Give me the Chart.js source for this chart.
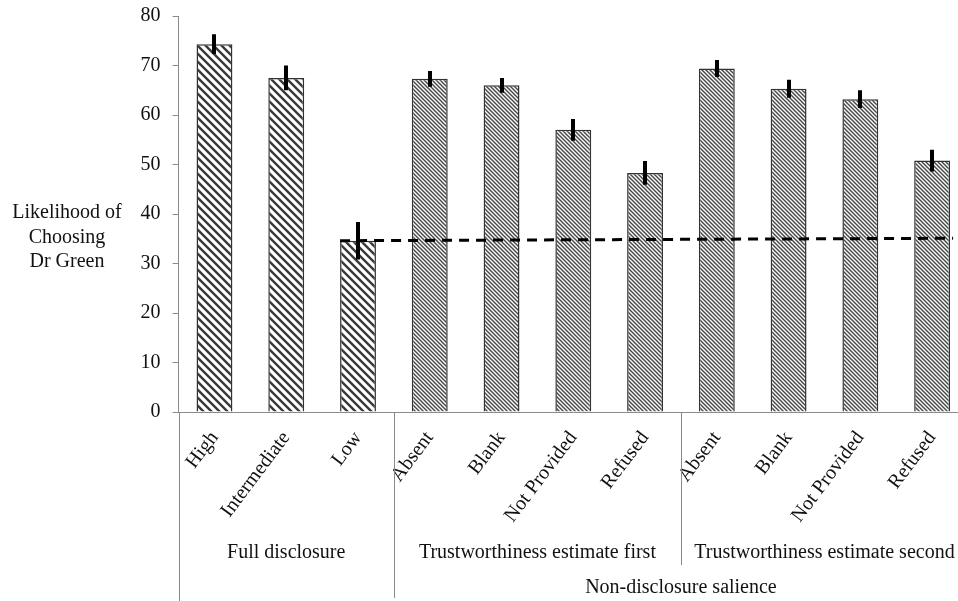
<!DOCTYPE html>
<html>
<head>
<meta charset="utf-8">
<script src="https://cdn.jsdelivr.net/npm/chart.js@4.4.0/dist/chart.umd.min.js"></script>
<style>
  html, body { margin: 0; padding: 0; background: #fff; overflow: hidden; }
  canvas { display: block; }
</style>
</head>
<body>
<canvas id="chart" width="972" height="601"></canvas>
<script>
// Conditions along the x axis
const categories = ['High', 'Intermediate', 'Low', 'Absent', 'Blank', 'Not Provided', 'Refused', 'Absent', 'Blank', 'Not Provided', 'Refused'];
// Mean likelihood of choosing Dr Green per condition
const likelihood = [74.3, 67.5, 34.6, 67.3, 66.0, 57.0, 48.3, 69.4, 65.3, 63.2, 50.8];
// Half-length of each error bar
const errorMargins = [2.0, 2.5, 3.8, 1.6, 1.5, 2.2, 2.4, 1.7, 1.8, 1.8, 2.2];
// Grouping of the conditions
const groupNames = ['Full disclosure', 'Trustworthiness estimate first', 'Trustworthiness estimate second'];
const groupSizes = [3, 4, 4];
const outerGroupName = 'Non-disclosure salience';
// Dashed reference level (start, end) running from the Low condition
const referenceLevel = [34.6, 35.1];
// Y axis
const yTicks = [0, 10, 20, 30, 40, 50, 60, 70, 80];
const yTitleLines = ['Likelihood of', 'Choosing', 'Dr Green'];

const FONT = 'Liberation Serif, Times New Roman, serif';
const FONT_SIZE = 20;
const TEXT = '#111';
const AXIS = '#8a8a8a';

function stripePattern(size, width, color) {
  const c = document.createElement('canvas');
  c.width = c.height = size;
  const g = c.getContext('2d');
  g.fillStyle = '#fff';
  g.fillRect(0, 0, size, size);
  g.strokeStyle = color;
  g.lineWidth = width;
  g.beginPath();
  for (const k of [-size, 0, size]) {
    g.moveTo(k - 1, -1);
    g.lineTo(k + size + 1, size + 1);
  }
  g.stroke();
  return g.createPattern(c, 'repeat');
}

const coarse = stripePattern(8, 2.4, '#3a3a3a');
const fine = stripePattern(4, 1.5, '#4a4a4a');
const fills = categories.map((_, i) => i < groupSizes[0] ? coarse : fine);

const decorations = {
  id: 'decorations',
  beforeDatasetsDraw(chart) {
    const { ctx, chartArea, scales: { x } } = chart;
    const H = chart.height;
    ctx.save();
    ctx.strokeStyle = AXIS;
    ctx.lineWidth = 1;
    // y axis continues down through the label area
    ctx.beginPath();
    ctx.moveTo(Math.round(chartArea.left) + 0.5, chartArea.bottom);
    ctx.lineTo(Math.round(chartArea.left) + 0.5, H);
    // group separators
    let idx = 0;
    groupSizes.forEach((n, gi) => {
      idx += n;
      if (idx >= categories.length) return;
      const sx = Math.round((x.getPixelForValue(idx - 1) + x.getPixelForValue(idx)) / 2) + 0.5;
      ctx.moveTo(sx, chartArea.bottom);
      ctx.lineTo(sx, gi === 0 ? H - 3 : 565);
    });
    ctx.stroke();
    ctx.restore();
  },
  afterDatasetsDraw(chart) {
    const { ctx, chartArea, scales: { x, y } } = chart;
    const bars = chart.getDatasetMeta(0).data;
    ctx.save();
    // dashed reference line
    const lowBar = bars[2];
    const lastBar = bars[bars.length - 1];
    ctx.strokeStyle = '#000';
    ctx.lineWidth = 3;
    ctx.setLineDash([10, 7]);
    ctx.beginPath();
    ctx.moveTo(lowBar.x - lowBar.width / 2, y.getPixelForValue(referenceLevel[0]));
    ctx.lineTo(lastBar.x + lastBar.width / 2 + 3, y.getPixelForValue(referenceLevel[1]));
    ctx.stroke();
    ctx.setLineDash([]);
    // error bars
    ctx.lineWidth = 4;
    ctx.beginPath();
    likelihood.forEach((v, i) => {
      const px = Math.round(x.getPixelForValue(i));
      ctx.moveTo(px, y.getPixelForValue(v + errorMargins[i]));
      ctx.lineTo(px, y.getPixelForValue(v - errorMargins[i]));
    });
    ctx.stroke();

    // group labels
    ctx.fillStyle = TEXT;
    ctx.font = FONT_SIZE + 'px ' + FONT;
    ctx.textAlign = 'center';
    ctx.textBaseline = 'middle';
    let start = 0;
    const bounds = [];
    groupSizes.forEach((n, gi) => {
      const left = start === 0 ? chartArea.left : (x.getPixelForValue(start - 1) + x.getPixelForValue(start)) / 2;
      const end = start + n;
      const right = end >= categories.length ? chartArea.right : (x.getPixelForValue(end - 1) + x.getPixelForValue(end)) / 2;
      bounds.push([left, right]);
      ctx.fillText(groupNames[gi], (left + right) / 2, 553);
      start = end;
    });
    ctx.fillText(outerGroupName, (bounds[1][0] + bounds[2][1]) / 2, 588);

    // y axis title
    yTitleLines.forEach((line, i) => ctx.fillText(line, 67, 213 + i * 24.5));
    ctx.restore();
  }
};

new Chart(document.getElementById('chart'), {
  type: 'bar',
  data: {
    labels: categories,
    datasets: [{
      data: likelihood,
      backgroundColor: fills,
      borderColor: '#333',
      borderWidth: 1.5,
      categoryPercentage: 1,
      barPercentage: 0.5
    }]
  },
  options: {
    responsive: false,
    animation: false,
    layout: { padding: { left: 0, right: 4, top: 16, bottom: 0 } },
    plugins: { legend: { display: false }, tooltip: { enabled: false } },
    scales: {
      x: {
        grid: { display: false, drawTicks: false },
        border: { display: true, color: AXIS, width: 1 },
        ticks: {
          autoSkip: false, minRotation: 53, maxRotation: 53, padding: 15,
          color: TEXT, font: { family: FONT, size: FONT_SIZE }
        },
        afterFit(scale) { scale.height = 189; scale.paddingLeft = 0; scale.paddingRight = 0; }
      },
      y: {
        min: 0, max: 80,
        afterBuildTicks(scale) { scale.ticks = yTicks.map(v => ({ value: v })); },
        grid: { display: true, drawOnChartArea: false, drawTicks: true, tickLength: 6, color: AXIS },
        border: { display: true, color: AXIS, width: 1 },
        ticks: { padding: 12, color: TEXT, font: { family: FONT, size: FONT_SIZE } },
        afterFit(scale) { scale.width = 178.6; scale.paddingTop = 0; scale.paddingBottom = 0; }
      }
    }
  },
  plugins: [decorations]
});
</script>
</body>
</html>
